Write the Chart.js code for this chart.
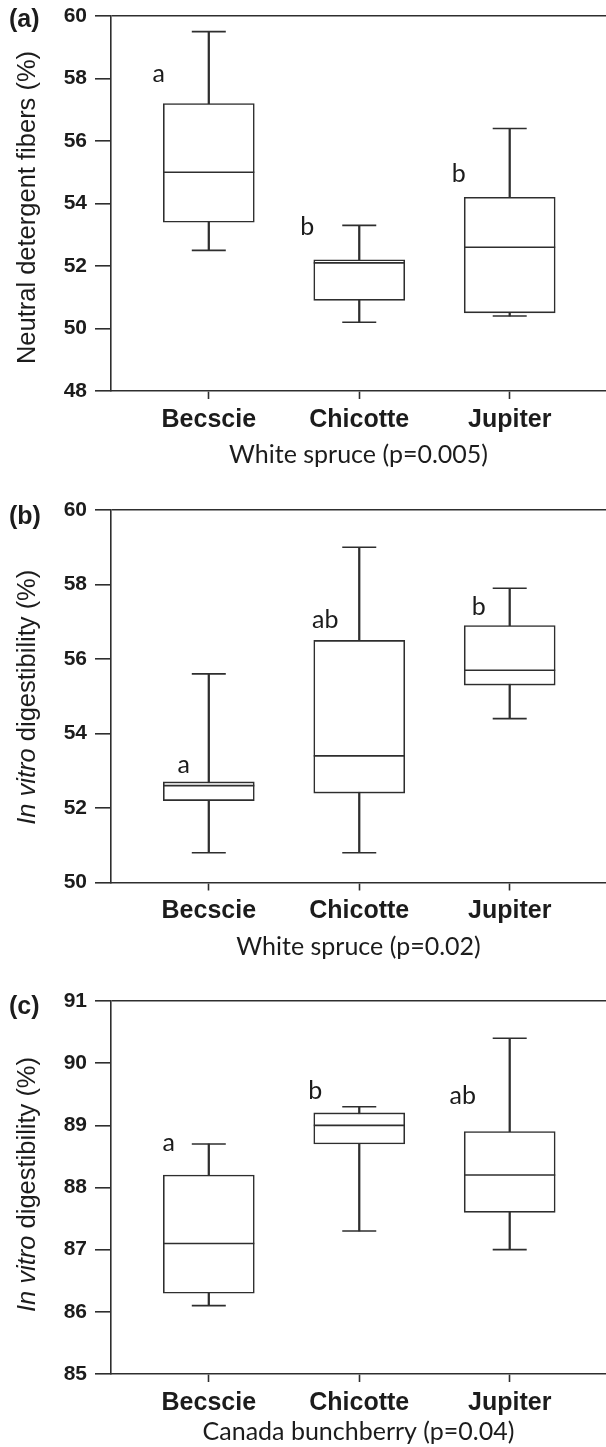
<!DOCTYPE html>
<html>
<head>
<meta charset="utf-8">
<script src="https://cdn.jsdelivr.net/npm/chart.js@4.4.1/dist/chart.umd.min.js"></script>
<style>
  html, body { margin: 0; padding: 0; background: #fff; }
  #page { position: relative; width: 606px; height: 1447px; overflow: hidden; }
  .panel { position: absolute; left: 0; width: 606px; }
</style>
</head>
<body>
<div id="page">
  <div class="panel" style="top:0px;height:474px"><canvas id="chart_a"></canvas></div>
  <div class="panel" style="top:494px;height:472px"><canvas id="chart_b"></canvas></div>
  <div class="panel" style="top:985px;height:462px"><canvas id="chart_c"></canvas></div>
</div>
<script>
const categories = ['Becscie', 'Chicotte', 'Jupiter'];

// (a) white spruce, neutral detergent fibers (%)
const ndfMin = [52.5, 50.2, 50.4];
const ndfQ1 = [53.4, 50.9, 50.5];
const ndfMedian = [55.0, 52.1, 52.6];
const ndfQ3 = [57.2, 52.2, 54.2];
const ndfMax = [59.5, 53.3, 56.4];
const ndfLetters = ['a', 'b', 'b'];
const ndfTicks = [48, 50, 52, 54, 56, 58, 60];

// (b) white spruce, in vitro digestibility (%)
const spruceMin = [50.8, 50.8, 54.4];
const spruceQ1 = [52.2, 52.4, 55.3];
const spruceMedian = [52.6, 53.4, 55.7];
const spruceQ3 = [52.7, 56.5, 56.9];
const spruceMax = [55.6, 59.0, 57.9];
const spruceLetters = ['a', 'ab', 'b'];
const spruceTicks = [50, 52, 54, 56, 58, 60];

// (c) canada bunchberry, in vitro digestibility (%)
const berryMin = [86.1, 87.3, 87.0];
const berryQ1 = [86.3, 88.7, 87.6];
const berryMedian = [87.1, 89.0, 88.2];
const berryQ3 = [88.2, 89.2, 88.9];
const berryMax = [88.7, 89.3, 90.4];
const berryLetters = ['a', 'b', 'ab'];
const berryTicks = [85, 86, 87, 88, 89, 90, 91];

const lineColor = '#2e2e2e';
const textColor = '#1c1c1c';

// text drawn next to each box: group letters, panel tag, y title
const panelText = {
  id: 'panelText',
  afterDatasetsDraw(chart, args, opts) {
    const {ctx, chartArea} = chart;
    const x = chart.scales.x;
    const y = chart.scales.y;
    ctx.save();
    ctx.fillStyle = textColor;

    ctx.font = '25px Lato';
    ctx.textAlign = 'center';
    ctx.textBaseline = 'alphabetic';
    opts.letters.forEach((t, i) => {
      ctx.fillText(t, x.getPixelForValue(i) + opts.letterDx[i], y.getPixelForValue(opts.letterY[i]));
    });

    ctx.font = 'bold 25px "Liberation Sans"';
    ctx.textAlign = 'left';
    ctx.textBaseline = 'middle';
    ctx.fillText(opts.tag, 9, chartArea.top + opts.tagDy);

    // rotated y title, parts may be italic
    const size = 25.5;
    let total = 0;
    opts.yTitle.forEach(p => {
      ctx.font = (p.italic ? 'italic ' : '') + size + 'px "Liberation Sans"';
      p.w = ctx.measureText(p.text).width;
      total += p.w;
    });
    ctx.translate(28, (chartArea.top + chartArea.bottom) / 2 + opts.titleDy);
    ctx.rotate(-Math.PI / 2);
    let pos = -total / 2;
    opts.yTitle.forEach(p => {
      ctx.font = (p.italic ? 'italic ' : '') + size + 'px "Liberation Sans"';
      ctx.fillText(p.text, pos, 0);
      pos += p.w;
    });
    ctx.restore();
  }
};

function drawBoxPanel(canvasId, box) {
  const capPoints = [];
  categories.forEach((c, i) => {
    capPoints.push({x: i, y: box.min[i]});
    capPoints.push({x: i, y: box.max[i]});
  });
  const top = box.ticks[box.ticks.length - 1];

  return new Chart(document.getElementById(canvasId), { // eslint-disable-line no-undef
    type: 'bar',
    data: {
      datasets: [{
        type: 'bar',
        data: categories.map((c, i) => ({x: i, y: [box.min[i], box.max[i]]})),
        barThickness: 1.6,
        backgroundColor: lineColor,
        borderWidth: 0,
        grouped: false,
        order: 3
      }, {
        type: 'bar',
        data: categories.map((c, i) => ({x: i, y: [box.q1[i], box.q3[i]]})),
        barThickness: 91,
        backgroundColor: '#ffffff',
        borderColor: lineColor,
        borderWidth: 1.6,
        borderSkipped: false,
        grouped: false,
        order: 2
      }, {
        type: 'scatter',
        data: capPoints,
        pointStyle: 'line',
        pointRadius: 17,
        pointHoverRadius: 17,
        pointBorderColor: lineColor,
        pointBorderWidth: 1.6,
        borderColor: lineColor,
        order: 1
      }, {
        type: 'scatter',
        data: categories.map((c, i) => ({x: i, y: box.median[i]})),
        pointStyle: 'line',
        pointRadius: 45.5,
        pointHoverRadius: 45.5,
        pointBorderColor: lineColor,
        pointBorderWidth: 1.6,
        borderColor: lineColor,
        order: 0
      }]
    },
    options: {
      responsive: true,
      maintainAspectRatio: false,
      animation: false,
      events: [],
      layout: {autoPadding: false, padding: {top: 16, left: 0, right: 0, bottom: 0}},
      plugins: {
        legend: {display: false},
        tooltip: {enabled: false},
        panelText: {
          tag: box.tag,
          tagDy: box.tagDy,
          titleDy: box.titleDy,
          letters: box.letters,
          letterY: box.letterY,
          letterDx: box.letterDx,
          yTitle: box.yTitle
        }
      },
      scales: {
        x: {
          type: 'linear',
          min: -0.65,
          max: 2.64,
          offset: false,
          afterBuildTicks: (s) => { s.ticks = categories.map((c, i) => ({value: i})); },
          afterFit: (s) => {
            s.height = box.xHeight;
            s.paddingLeft = 0;
            s.paddingRight = 0;
          },
          ticks: {
            callback: (v) => categories[v],
            font: {family: 'Liberation Sans', weight: 'bold', size: 25},
            color: textColor,
            padding: box.xPad,
            maxRotation: 0,
            autoSkip: false
          },
          grid: {drawOnChartArea: false, offset: false, tickLength: 8, tickColor: lineColor, tickWidth: 1.6},
          border: {color: lineColor, width: 1.6},
          title: {
            display: true,
            text: box.xTitle,
            font: {family: 'Lato', size: 25},
            color: textColor,
            padding: {top: 4, bottom: box.titlePad}
          }
        },
        y: {
          min: box.ticks[0],
          max: top,
          afterBuildTicks: (s) => { s.ticks = box.ticks.map(v => ({value: v})); },
          afterFit: (s) => {
            s.width = 111;
            s.paddingTop = 0;
            s.paddingBottom = 0;
          },
          ticks: {
            font: {family: 'Liberation Sans', weight: 'bold', size: 21},
            color: textColor,
            padding: 8
          },
          grid: {
            drawOnChartArea: true,
            color: (c) => (c.tick && c.tick.value === top) ? lineColor : 'rgba(0,0,0,0)',
            lineWidth: 1.6,
            tickColor: lineColor,
            tickLength: 16,
            tickWidth: 1.6
          },
          border: {color: lineColor, width: 1.6}
        }
      }
    },
    plugins: [panelText]
  });
}

drawBoxPanel('chart_a', {
  min: ndfMin, q1: ndfQ1, median: ndfMedian, q3: ndfQ3, max: ndfMax,
  ticks: ndfTicks, letters: ndfLetters,
  letterY: [57.9, 53.0, 54.7], letterDx: [-50, -52, -51],
  tag: '(a)', tagDy: 4, titleDy: 4,
  yTitle: [{text: 'Neutral detergent fibers (%)'}],
  xTitle: 'White spruce (p=0.005)',
  xHeight: 83, xPad: 6, titlePad: 4
});

drawBoxPanel('chart_b', {
  min: spruceMin, q1: spruceQ1, median: spruceMedian, q3: spruceQ3, max: spruceMax,
  ticks: spruceTicks, letters: spruceLetters,
  letterY: [52.95, 56.83, 57.17], letterDx: [-25, -34, -31],
  tag: '(b)', tagDy: 7, titleDy: 1,
  yTitle: [{text: 'In vitro', italic: true}, {text: ' digestibility (%)'}],
  xTitle: 'White spruce (p=0.02)',
  xHeight: 83.5, xPad: 6, titlePad: 4
});

drawBoxPanel('chart_c', {
  min: berryMin, q1: berryQ1, median: berryMedian, q3: berryQ3, max: berryMax,
  ticks: berryTicks, letters: berryLetters,
  letterY: [88.59, 89.42, 89.35], letterDx: [-40, -44, -47],
  tag: '(c)', tagDy: 6, titleDy: -3,
  yTitle: [{text: 'In vitro', italic: true}, {text: ' digestibility (%)'}],
  xTitle: 'Canada bunchberry (p=0.04)',
  xHeight: 73, xPad: 6, titlePad: 0
});
</script>
</body>
</html>
